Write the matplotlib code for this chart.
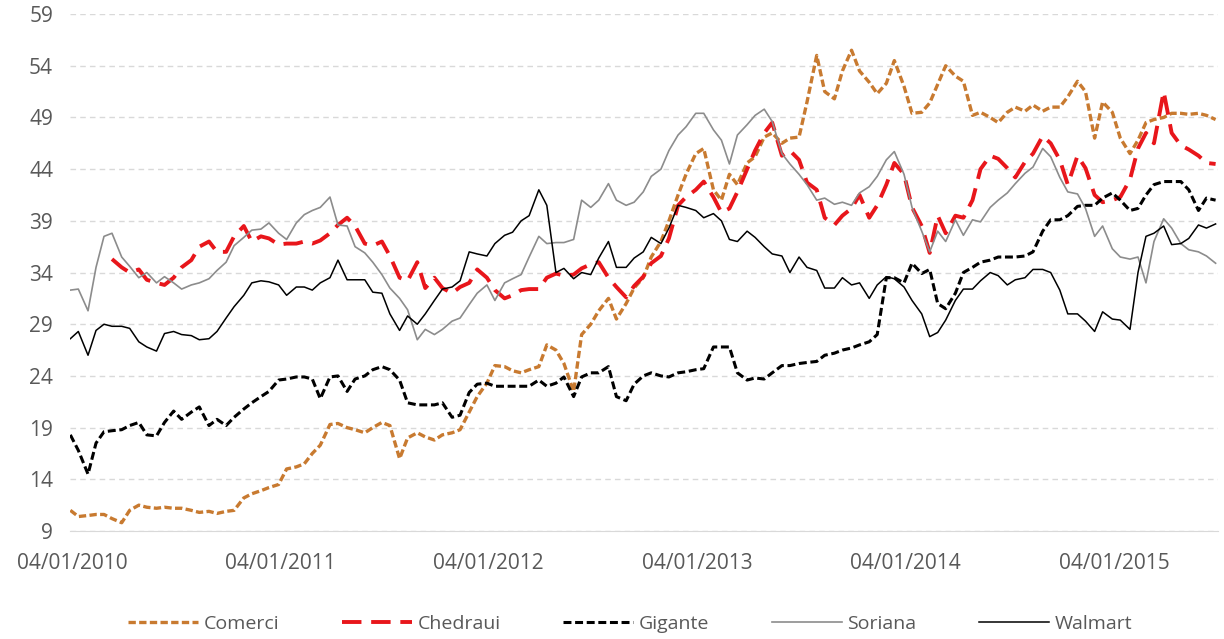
import numpy as np
import pandas as pd
import matplotlib
matplotlib.use("Agg")
import matplotlib.pyplot as plt
import matplotlib.dates as mdates

plt.rcParams['font.family'] = ['Open Sans', 'DejaVu Sans']

# semi-monthly closing prices (1st and 15th of each month)
dates = pd.date_range('2010-01-01', '2015-07-01', freq='SMS')

comerci = [
    11.0, 10.4, 10.5, 10.6, 10.6, 10.2, 9.8, 11.0, 11.5, 11.3, 11.2, 11.3,
    11.2, 11.2, 11.0, 10.8, 10.9, 10.7, 10.9, 11.0, 12.2, 12.6, 12.9, 13.2,
    13.5, 15.0, 15.2, 15.5, 16.5, 17.3, 19.3, 19.4, 19.0, 18.8, 18.5, 19.0,
    19.5, 19.2, 16.0, 18.0, 18.5, 18.1, 17.8, 18.3, 18.5, 18.8, 20.5, 22.0,
    23.3, 25.0, 24.9, 24.5, 24.3, 24.6, 24.9, 27.0, 26.5, 25.2, 22.5, 28.0,
    29.0, 30.3, 31.5, 29.5, 31.0, 32.5, 33.5, 35.5, 37.0, 39.0, 41.5, 43.5,
    45.5, 46.0, 42.0, 41.0, 43.5, 42.5, 44.6, 45.2, 47.1, 47.5, 46.5, 47.0,
    47.1, 50.5, 55.0, 51.5, 50.8, 53.5, 55.5, 53.5, 52.4, 51.3, 52.3, 54.5,
    52.0, 49.4, 49.5, 50.4, 52.2, 54.0, 53.0, 52.5, 49.2, 49.5, 49.0, 48.5,
    49.5, 50.0, 49.6, 50.2, 49.6, 50.0, 50.0, 51.0, 52.5, 51.5, 47.0, 50.5,
    49.5, 47.0, 45.5, 46.8, 48.5, 48.8, 49.0, 49.4, 49.4, 49.3, 49.4, 49.2,
    48.8]

chedraui = [
    np.nan, np.nan, np.nan, np.nan, np.nan, 35.3, 34.5, 34.0, 34.3, 33.3, 33.0, 32.8,
    33.5, 34.5, 35.2, 36.5, 37.0, 36.0, 36.0, 37.5, 38.5, 37.0, 37.5, 37.3,
    36.7, 36.8, 36.8, 37.0, 36.8, 37.1, 37.8, 38.6, 39.3, 38.5, 36.8, 36.6,
    37.0, 35.6, 33.5, 33.2, 35.0, 32.5, 33.5, 32.5, 32.0, 32.6, 33.0, 34.3,
    33.5, 32.3, 31.5, 31.8, 32.3, 32.4, 32.4, 33.5, 33.9, 33.7, 33.8, 34.4,
    34.8, 35.0, 33.5, 32.6, 31.6, 32.7, 33.6, 34.9, 35.6, 37.3, 40.5, 41.3,
    42.0, 42.8, 41.3, 39.8, 40.2, 41.8, 44.0, 45.8, 47.5, 48.5, 45.3, 45.8,
    44.9, 42.7, 42.0, 39.3, 38.6, 39.5, 40.2, 41.5, 39.3, 40.5, 42.5, 44.6,
    43.5, 40.3, 38.5, 35.9, 39.5, 37.8, 39.5, 39.3, 41.0, 44.0, 45.3, 45.0,
    44.1, 43.2, 44.7, 45.5, 47.2, 46.5, 44.9, 42.5, 45.3, 44.1, 41.5, 40.8,
    41.0, 41.3, 43.0, 46.0, 47.5, 46.5, 51.5, 47.5, 46.3, 45.9, 45.3, 44.6,
    44.5]

gigante = [
    18.3, 16.8, 14.5, 17.5, 18.6, 18.7, 18.8, 19.2, 19.5, 18.3, 18.2, 19.5,
    20.6, 19.8, 20.5, 21.0, 19.2, 19.8, 19.2, 20.0, 20.8, 21.4, 22.0, 22.5,
    23.6, 23.7, 23.9, 23.9, 23.7, 21.8, 23.9, 24.0, 22.5, 23.7, 24.0, 24.6,
    24.9, 24.6, 23.6, 21.4, 21.2, 21.2, 21.2, 21.4, 20.0, 20.2, 22.4, 23.2,
    23.3, 23.0, 23.0, 23.0, 23.0, 23.0, 23.6, 23.0, 23.3, 23.9, 22.0, 23.9,
    24.3, 24.3, 24.9, 22.0, 21.6, 23.2, 24.0, 24.3, 24.0, 23.9, 24.3, 24.4,
    24.6, 24.7, 26.8, 26.8, 26.8, 24.3, 23.6, 23.8, 23.7, 24.3, 25.0, 25.0,
    25.2, 25.3, 25.4, 26.0, 26.2, 26.5, 26.7, 27.0, 27.3, 28.0, 33.5, 33.5,
    33.0, 34.9, 33.9, 34.3, 31.0, 30.5, 32.0, 34.0, 34.5, 35.0, 35.2, 35.5,
    35.5, 35.5, 35.6, 36.0, 38.0, 39.1, 39.1, 39.5, 40.4, 40.5, 40.5, 41.2,
    41.7, 41.0, 40.0, 40.2, 41.5, 42.5, 42.8, 42.8, 42.8, 42.0, 40.0, 41.2,
    41.0]

soriana = [
    32.3, 32.4, 30.3, 34.5, 37.5, 37.8, 35.5, 34.6, 33.5, 34.0, 33.0, 33.6,
    33.0, 32.4, 32.8, 33.0, 33.4, 34.2, 35.0, 36.6, 37.4, 38.1, 38.2, 38.8,
    37.8, 37.2, 38.8, 39.6, 40.0, 40.3, 41.3, 38.6, 38.5, 36.5, 35.9, 35.0,
    33.8, 32.5, 31.5, 30.4, 27.5, 28.5, 28.0, 28.5, 29.3, 29.6, 30.9, 32.0,
    32.8, 31.3, 33.0, 33.4, 33.8, 35.5, 37.5, 36.8, 36.9, 36.9, 37.2, 41.0,
    40.3, 41.0, 42.6, 41.0, 40.5, 40.8, 41.8, 43.3, 44.0, 45.8, 47.3, 48.1,
    49.4, 49.4, 47.8, 46.8, 44.5, 47.3, 48.3, 49.2, 49.8, 48.6, 45.5, 44.5,
    43.5, 42.5, 41.0, 41.2, 40.6, 40.8, 40.5, 41.7, 42.3, 43.3, 44.9, 45.7,
    43.5, 40.3, 38.0, 36.0, 38.0, 37.0, 39.1, 37.6, 39.1, 38.9, 40.3, 41.0,
    41.7, 42.6, 43.6, 44.2, 46.0, 45.2, 43.2, 41.8, 41.6, 40.2, 37.5, 38.5,
    36.3, 35.5, 35.3, 35.5, 33.0, 37.0, 39.2, 38.3, 36.8, 36.2, 36.0, 35.6,
    34.9]

walmart = [
    27.6, 28.3, 26.0, 28.4, 29.0, 28.8, 28.8, 28.6, 27.3, 26.8, 26.4, 28.1,
    28.3, 28.0, 27.9, 27.5, 27.6, 28.3, 29.6, 30.7, 31.8, 33.0, 33.2, 33.1,
    32.8, 31.8, 32.6, 32.6, 32.3, 33.0, 33.5, 35.2, 33.3, 33.3, 33.3, 32.1,
    32.0, 30.0, 28.4, 29.8, 29.0, 30.0, 31.3, 32.4, 32.6, 33.2, 36.0, 35.8,
    35.6, 36.8, 37.6, 37.9, 39.0, 39.5, 42.0, 40.5, 34.0, 34.4, 33.4, 34.0,
    33.8, 35.4, 37.0, 34.5, 34.5, 35.4, 36.0, 37.4, 36.8, 38.3, 40.5, 40.3,
    40.0, 39.3, 39.7, 39.0, 37.2, 37.0, 38.0, 37.4, 36.5, 35.8, 35.6, 34.0,
    35.5, 34.5, 34.2, 32.5, 32.5, 33.5, 32.8, 33.0, 31.5, 32.8, 33.6, 33.4,
    32.6, 31.3, 30.0, 27.8, 28.2, 29.4, 31.3, 32.4, 32.4, 33.2, 34.0, 33.7,
    32.8, 33.3, 33.5, 34.3, 34.3, 34.0, 32.3, 30.0, 30.0, 29.3, 28.3, 30.2,
    29.5, 29.4, 28.5, 34.0, 37.5, 37.8, 38.5, 36.7, 36.8, 37.3, 38.6, 38.3,
    38.7]

tick_dates = pd.to_datetime(['2010-01-04', '2011-01-04', '2012-01-04',
                             '2013-01-04', '2014-01-04', '2015-01-04'])
y_ticks = [9, 14, 19, 24, 29, 34, 39, 44, 49, 54, 59]

fig = plt.figure(figsize=(12.24, 6.39), dpi=100)
ax = fig.add_axes([0.057, 0.169, 0.938, 0.809])

ax.plot(dates, comerci, color='#c87a30', lw=2.4, dashes=(2.2, 1.0), label='Comerci')
ax.plot(dates, chedraui, color='#e8161b', lw=2.8, dashes=(5, 2.5), label='Chedraui')
ax.plot(dates, gigante, color='black', lw=2.2, dashes=(2.6, 1.2), label='Gigante')
ax.plot(dates, soriana, color='#8c8c8c', lw=1.2, label='Soriana')
ax.plot(dates, walmart, color='black', lw=1.1, label='Walmart')

ax.set_ylim(9, 59)
ax.set_xlim(pd.Timestamp('2009-12-31'), pd.Timestamp('2015-07-05'))
ax.set_yticks(y_ticks)
ax.set_xticks(tick_dates)
ax.xaxis.set_major_formatter(mdates.DateFormatter('%d/%m/%Y'))

# excel-ish look
ax.grid(axis='y', color='#d9d9d9', lw=1, linestyle=(0, (4, 3)))
ax.set_axisbelow(True)
for s in ['top', 'right', 'left']:
    ax.spines[s].set_visible(False)
ax.spines['bottom'].set_color('#d9d9d9')
ax.tick_params(length=0, labelsize=15, colors='#595959')
ax.tick_params(axis='x', pad=16)
ax.tick_params(axis='y', pad=12)

fig.legend(loc='lower center', bbox_to_anchor=(0.515, -0.018), ncol=5,
           frameon=False, fontsize=14, handlelength=3.6, columnspacing=3.2,
           handletextpad=0.3, labelcolor='#595959')

fig.savefig('out.png', dpi=100)
